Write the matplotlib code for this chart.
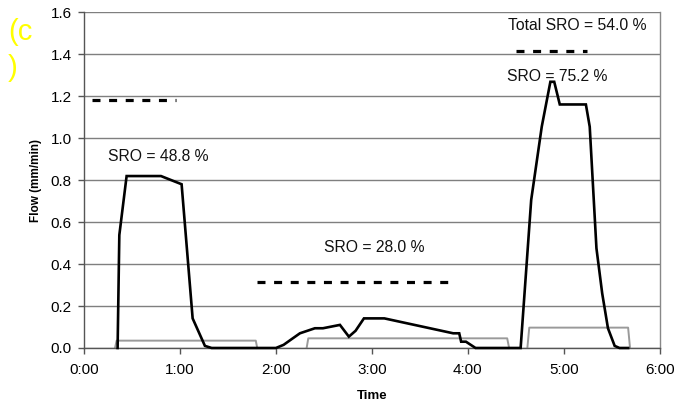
import matplotlib
matplotlib.use("Agg")
import matplotlib.pyplot as plt

plt.rcParams['font.family'] = ['Liberation Sans', 'DejaVu Sans']

# Time in hours
runoff_t = [0.35, 0.368, 0.444, 0.802, 1.017, 1.132, 1.26, 1.33, 2.0, 2.08, 2.16, 2.25,
            2.406, 2.49, 2.667, 2.76, 2.83, 2.917, 3.13, 3.847, 3.91, 3.93, 3.98, 4.08,
            4.55, 4.66, 4.77, 4.86, 4.90, 4.958, 5.23, 5.27, 5.34, 5.40, 5.46, 5.53,
            5.58, 5.67]
runoff_q = [0, 0.538, 0.819, 0.819, 0.78, 0.141, 0.01, 0, 0, 0.015, 0.041, 0.07,
            0.094, 0.094, 0.11, 0.054, 0.082, 0.141, 0.141, 0.07, 0.07, 0.03, 0.03, 0,
            0, 0.705, 1.054, 1.268, 1.268, 1.16, 1.16, 1.054, 0.475, 0.26, 0.094, 0.01,
            0, 0]

rain1_t = [0.323, 0.34, 1.79, 1.805]
rain1_q = [0, 0.035, 0.035, 0]
rain2_t = [2.32, 2.337, 4.41, 4.43]
rain2_q = [0, 0.046, 0.046, 0]
rain3_t = [4.62, 4.64, 5.67, 5.69]
rain3_q = [0, 0.097, 0.097, 0]

level1_t = [0.08, 0.96]
level1_q = [1.18, 1.18]
level2_t = [1.8, 3.79]
level2_q = [0.316, 0.316]
level3_t = [4.5, 5.24]
level3_q = [1.414, 1.414]

labels = ["SRO = 48.8 %", "SRO = 28.0 %", "SRO = 75.2 %", "Total SRO = 54.0 %"]
label_x = [0.77, 3.02, 4.93, 5.14]
label_y = [0.914, 0.481, 1.295, 1.538]

xticks = [0, 1, 2, 3, 4, 5, 6]
xticklabels = ["0:00", "1:00", "2:00", "3:00", "4:00", "5:00", "6:00"]
yticks = [0.0, 0.2, 0.4, 0.6, 0.8, 1.0, 1.2, 1.4, 1.6]

fig = plt.figure(figsize=(6.83, 4.03), dpi=100)
ax = fig.add_axes([0.123, 0.1365, 0.843, 0.8335])

ax.set_xlim(0, 6)
ax.set_ylim(0, 1.6)
ax.set_yticks(yticks)
ax.set_yticklabels([f"{v:.1f}" for v in yticks])
ax.set_xticks(xticks)
ax.set_xticklabels(xticklabels)
ax.grid(axis='y', color='#7f7f7f', linewidth=1.0, zorder=0)
ax.set_axisbelow(True)

for spine in ['left', 'bottom']:
    ax.spines[spine].set_color('#555555')
    ax.spines[spine].set_linewidth(1.0)
ax.spines['right'].set_color('#888888')
ax.spines['right'].set_linewidth(1.0)
ax.spines['top'].set_visible(False)

ax.tick_params(axis='both', direction='out', length=4, width=1, color='#555555',
               labelsize=11)
ax.tick_params(axis='x', pad=7)
ax.tick_params(axis='y', pad=5)

for t, q in [(rain1_t, rain1_q), (rain2_t, rain2_q), (rain3_t, rain3_q)]:
    ax.plot(t, q, color='#9a9a9a', linewidth=1.4, zorder=2, clip_on=False)

ax.plot(runoff_t, runoff_q, color='black', linewidth=1.9, zorder=3,
        solid_joinstyle='miter', clip_on=False)

for t, q in [(level1_t, level1_q), (level2_t, level2_q), (level3_t, level3_q)]:
    ax.plot(t, q, color='black', linewidth=2.3, linestyle=(0, (2.5, 2.7)),
            zorder=3, dash_capstyle='butt')

for s, x, y in zip(labels, label_x, label_y):
    ax.text(x, y, s, ha='center', va='center', fontsize=11.3, color='#111111')

ax.set_xlabel("Time", fontsize=9.5, fontweight='bold', labelpad=9)
ax.set_ylabel("Flow (mm/min)", fontsize=8.5, fontweight='bold', labelpad=6)

fig.text(8 / 683, 1 - 32 / 403, "(c", color='#ffff00', fontsize=21, ha='left', va='center')
fig.text(8 / 683, 1 - 68 / 403, ")", color='#ffff00', fontsize=21, ha='left', va='center')

fig.savefig("out.png", dpi=100)
